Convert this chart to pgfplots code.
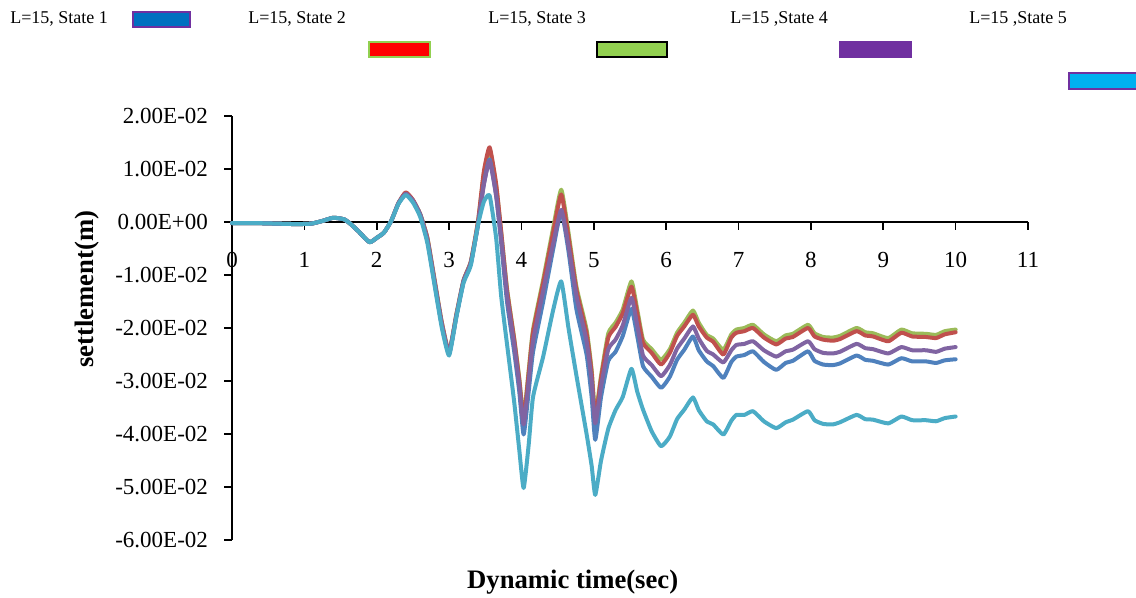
\documentclass[border=0pt]{standalone}
\usepackage{pgfplots}
\pgfplotsset{compat=1.18}
\usepackage{pgfplotstable}
\usepackage{fontspec}
\setmainfont{Liberation Serif}
\definecolor{sB}{HTML}{4F81BD}
\definecolor{sR}{HTML}{C0504D}
\definecolor{sG}{HTML}{9BBB59}
\definecolor{sP}{HTML}{8064A2}
\definecolor{sC}{HTML}{4BACC6}
\definecolor{lBlue}{HTML}{0070C0}
\definecolor{lPurple}{HTML}{7030A0}
\definecolor{lRed}{HTML}{FF0000}
\definecolor{lGreen}{HTML}{92D050}
\definecolor{lCyan}{HTML}{00B0F0}

\pgfplotstableread{
x     B        R        G        P        C
0     -0.0002  -0.0002  -0.0002  -0.0002  -0.0002
0.3   -0.0002  -0.0002  -0.0002  -0.0002  -0.0002
0.6   -0.0003  -0.0003  -0.0003  -0.0003  -0.0003
0.9   -0.0004  -0.0004  -0.0004  -0.0004  -0.0004
1.1   -0.0003  -0.0003  -0.0003  -0.0003  -0.0003
1.25   0.0002   0.0002   0.0002   0.0002   0.0002
1.4    0.0008   0.0008   0.0008   0.0008   0.0008
1.55   0.0005   0.0005   0.0005   0.0005   0.0005
1.65  -0.0005  -0.0005  -0.0005  -0.0005  -0.0005
1.75  -0.0018  -0.0018  -0.0018  -0.0018  -0.0018
1.9   -0.0038  -0.0038  -0.0038  -0.0038  -0.0038
2.0   -0.0030  -0.0030  -0.0030  -0.0030  -0.0030
2.1   -0.0020  -0.0020  -0.0020  -0.0020  -0.0020
2.2    0.0002   0.0002   0.0002   0.0002   0.0002
2.3    0.0035   0.0036   0.0035   0.0035   0.0034
2.4    0.0053   0.0056   0.0054   0.0053   0.0051
2.5    0.0040   0.0042   0.0041   0.0040   0.0037
2.6    0.0014   0.0015   0.0015   0.0014   0.0010
2.7   -0.0035  -0.0030  -0.0030  -0.0035  -0.0040
2.8   -0.0115  -0.0110  -0.0110  -0.0115  -0.0120
2.9   -0.0195  -0.0190  -0.0190  -0.0195  -0.0200
3.0   -0.0248  -0.0245  -0.0245  -0.0248  -0.0252
3.1   -0.0178  -0.0175  -0.0175  -0.0178  -0.0180
3.2   -0.0112  -0.0110  -0.0110  -0.0112  -0.0115
3.3   -0.0078  -0.0075  -0.0075  -0.0078  -0.0082
3.4   -0.0005   0.0002   0.0000  -0.0005  -0.0005
3.48   0.0072   0.0095   0.0090   0.0070   0.0038
3.56   0.0118   0.0141   0.0137   0.0115   0.0050
3.65   0.0050   0.0072   0.0068   0.0050  -0.0030
3.72  -0.0040  -0.0018  -0.0020  -0.0030  -0.0140
3.8   -0.0150  -0.0128  -0.0125  -0.0138  -0.0230
3.9   -0.0245  -0.0222  -0.0220  -0.0232  -0.0340
3.97  -0.0320  -0.0298  -0.0295  -0.0308  -0.0430
4.03  -0.0401  -0.0372  -0.0367  -0.0382  -0.0502
4.1   -0.0320  -0.0285  -0.0280  -0.0300  -0.0420
4.16  -0.0245  -0.0208  -0.0203  -0.0225  -0.0330
4.3   -0.0150  -0.0115  -0.0109  -0.0130  -0.0254
4.44  -0.0050  -0.0018  -0.0010  -0.0040  -0.0165
4.55   0.0020   0.0052   0.0061   0.0023  -0.0112
4.65  -0.0055  -0.0028  -0.0020  -0.0045  -0.0200
4.76  -0.0165  -0.0128  -0.0122  -0.0140  -0.0290
4.9   -0.0250  -0.0210  -0.0203  -0.0225  -0.0400
4.97  -0.0330  -0.0285  -0.0279  -0.0300  -0.0460
5.02  -0.0411  -0.0370  -0.0364  -0.0380  -0.0515
5.1   -0.0330  -0.0295  -0.0290  -0.0310  -0.0450
5.2   -0.0262  -0.0218  -0.0210  -0.0240  -0.0390
5.3   -0.0245  -0.0198  -0.0190  -0.0222  -0.0355
5.4   -0.0215  -0.0172  -0.0165  -0.0195  -0.0330
5.52  -0.0164  -0.0122  -0.0112  -0.0143  -0.0277
5.6   -0.0215  -0.0172  -0.0165  -0.0195  -0.0320
5.68  -0.0272  -0.0228  -0.0222  -0.0252  -0.0354
5.8   -0.0292  -0.0247  -0.0240  -0.0270  -0.0395
5.93  -0.0313  -0.0269  -0.0260  -0.0291  -0.0423
6.05  -0.0292  -0.0247  -0.0240  -0.0270  -0.0405
6.15  -0.0260  -0.0215  -0.0209  -0.0239  -0.0372
6.25  -0.0241  -0.0197  -0.0190  -0.0220  -0.0354
6.37  -0.0216  -0.0175  -0.0167  -0.0197  -0.0331
6.45  -0.0242  -0.0197  -0.0190  -0.0220  -0.0355
6.56  -0.0263  -0.0218  -0.0213  -0.0243  -0.0376
6.65  -0.0272  -0.0226  -0.0220  -0.0250  -0.0382
6.79  -0.0294  -0.0250  -0.0241  -0.0265  -0.0401
6.9   -0.0264  -0.0218  -0.0212  -0.0242  -0.0375
6.97  -0.0254  -0.0209  -0.0203  -0.0232  -0.0364
7.08  -0.0251  -0.0206  -0.0200  -0.0230  -0.0364
7.2   -0.0244  -0.0200  -0.0194  -0.0225  -0.0357
7.35  -0.0264  -0.0218  -0.0212  -0.0242  -0.0376
7.52  -0.0279  -0.0231  -0.0225  -0.0254  -0.0389
7.65  -0.0266  -0.0220  -0.0214  -0.0244  -0.0378
7.75  -0.0262  -0.0217  -0.0211  -0.0241  -0.0373
7.96  -0.0244  -0.0200  -0.0194  -0.0225  -0.0357
8.05  -0.0262  -0.0216  -0.0210  -0.0240  -0.0374
8.17  -0.0269  -0.0222  -0.0217  -0.0247  -0.0381
8.3   -0.0270  -0.0224  -0.0218  -0.0248  -0.0382
8.4   -0.0267  -0.0221  -0.0215  -0.0245  -0.0378
8.63  -0.0252  -0.0206  -0.0200  -0.0230  -0.0364
8.75  -0.0260  -0.0214  -0.0208  -0.0238  -0.0372
8.86  -0.0262  -0.0216  -0.0210  -0.0240  -0.0373
9.07  -0.0269  -0.0225  -0.0219  -0.0248  -0.0380
9.25  -0.0257  -0.0209  -0.0203  -0.0236  -0.0367
9.4   -0.0263  -0.0216  -0.0210  -0.0242  -0.0374
9.59  -0.0263  -0.0217  -0.0211  -0.0242  -0.0374
9.73  -0.0266  -0.0219  -0.0213  -0.0245  -0.0376
9.85  -0.0261  -0.0212  -0.0206  -0.0239  -0.0370
10.0  -0.0259  -0.0208  -0.0203  -0.0236  -0.0367
}\data

\begin{document}
\begin{tikzpicture}
\path[use as bounding box] (0,0) rectangle (852pt,448.5pt);
\begin{axis}[
  at={(174pt,43.5pt)}, anchor=south west,
  scale only axis, width=597pt, height=318pt,
  xmin=0, xmax=11, ymin=-0.06, ymax=0.02,
  axis x line*=middle, axis y line*=left,
  hide obscured x ticks=false,
  scaled y ticks=false,
  xtick={0,1,2,3,4,5,6,7,8,9,10,11},
  xticklabels={0,1,2,3,4,5,6,7,8,9,10,11},
  ytick={-0.06,-0.05,-0.04,-0.03,-0.02,-0.01,0,0.01,0.02},
  yticklabels={-6.00E-02,-5.00E-02,-4.00E-02,-3.00E-02,-2.00E-02,-1.00E-02,0.00E+00,1.00E-02,2.00E-02},
  tick align=outside, major tick length=6pt,
  tick style={black, line width=1.2pt},
  axis line style={black, line width=1.2pt},
  ticklabel style={font=\fontsize{17.25}{20}\selectfont},
  xticklabel style={anchor=center, yshift=-22.5pt},
  yticklabel style={anchor=east, xshift=-8.5pt},
  every axis x label/.style={at={(axis description cs:0.428,-0.099)}, anchor=center, font=\fontsize{20}{24}\selectfont\bfseries},
  every axis y label/.style={at={(axis description cs:-0.182,0.592)}, anchor=center, rotate=90, font=\fontsize{20}{24}\selectfont\bfseries},
  xlabel={Dynamic time(sec)},
  ylabel={settlement(m)},
  clip=false,
  every axis plot/.append style={no markers, smooth, tension=0.3, line width=3pt, line join=round, line cap=round},
]
\addplot[sG] table[x=x,y=G]{\data};
\addplot[sR] table[x=x,y=R]{\data};
\addplot[sB] table[x=x,y=B]{\data};
\addplot[sP] table[x=x,y=P]{\data};
\addplot[sC] table[x=x,y=C]{\data};
\end{axis}
\begin{scope}[x=0.75pt, y=-0.75pt, shift={(0pt,448.5pt)}]
  \tikzset{lt/.style={anchor=base west, inner sep=0pt, font=\fontsize{13.5}{16}\selectfont}}
  \node[lt] at (10,24) {L=15, State 1};
  \node[lt] at (248,24) {L=15, State 2};
  \node[lt] at (488,24) {L=15, State 3};
  \node[lt] at (730,24) {L=15 ,State 4};
  \node[lt] at (969,24) {L=15 ,State 5};
  \draw[draw=lPurple, fill=lBlue, line width=1.2pt] (133,12) rectangle (190,27);
  \draw[draw=lGreen, fill=lRed, line width=1.2pt] (369,42) rectangle (430,57);
  \draw[draw=black, fill=lGreen, line width=1.2pt] (597,42) rectangle (667,57);
  \draw[draw=lPurple, fill=lPurple, line width=1.2pt] (840,42) rectangle (911,57);
  \draw[draw=lPurple, fill=lCyan, line width=1.2pt] (1069,73) rectangle (1140,89);
\end{scope}
\end{tikzpicture}
\end{document}
